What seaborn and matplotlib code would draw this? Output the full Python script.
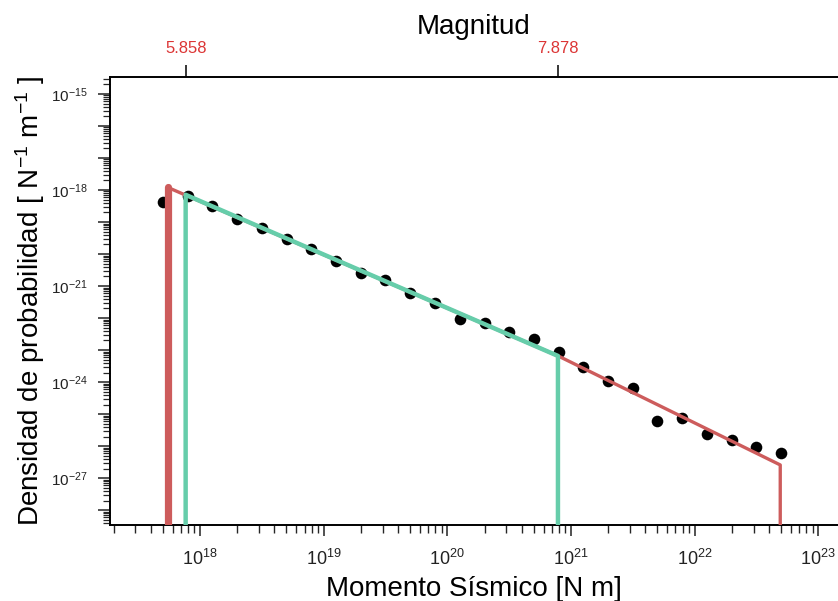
import numpy as np
import pandas as pd
import matplotlib
matplotlib.use("Agg")
import matplotlib.pyplot as plt
import matplotlib.ticker as mticker
import seaborn as sns

# ---- data ----
moment = [5.01e17, 7.94e17, 1.26e18, 2.00e18, 3.16e18, 5.01e18, 7.94e18,
          1.26e19, 2.00e19, 3.16e19, 5.01e19, 7.94e19, 1.26e20, 2.00e20,
          3.16e20, 5.01e20, 7.94e20, 1.26e21, 2.00e21, 3.16e21, 5.01e21,
          7.94e21, 1.26e22, 2.00e22, 3.16e22, 5.01e22]
density = [4.3e-19, 6.6e-19, 3.1e-19, 1.25e-19, 6.4e-20, 3.0e-20, 1.4e-20,
           6.2e-21, 2.5e-21, 1.56e-21, 6.2e-22, 3.0e-22, 9.6e-23, 6.9e-23,
           3.7e-23, 2.3e-23, 8.7e-24, 3.06e-24, 1.05e-24, 6.8e-25, 6.0e-26,
           7.5e-26, 2.38e-26, 1.58e-26, 9.7e-27, 6.0e-27]

red_x = [5.5e17, 5.5e17, 8.0e20, 4.93e22, 4.93e22]
red_y = [1e-40, 1.2e-18, 6.4e-24, 2.6e-27, 1e-40]

green_x = [7.65e17, 7.65e17, 7.85e20, 7.85e20]
green_y = [1e-40, 7.1e-19, 6.6e-24, 1e-40]

top_tick_pos = [7.65e17, 7.85e20]
top_tick_labels = ["5.858", "7.878"]

RED = "#CD5C5C"
GREEN = "#66CDAA"
TOPRED = "#DC3535"

sns.set_style("ticks")
plt.rcParams["font.family"] = ["Liberation Sans", "DejaVu Sans"]
plt.rcParams["mathtext.fontset"] = "custom"
plt.rcParams["mathtext.rm"] = "Liberation Sans"
plt.rcParams["mathtext.it"] = "Liberation Sans:italic"
plt.rcParams["mathtext.bf"] = "Liberation Sans:bold"

fig = plt.figure(figsize=(8.38, 6.01), dpi=100)
ax = fig.add_axes([0.1313, 0.1265, 0.8687, 0.7454])

pts = pd.DataFrame({"M0": moment, "dens": density})
red = pd.DataFrame({"x": red_x, "y": red_y})
green = pd.DataFrame({"x": green_x, "y": green_y})

sns.scatterplot(data=pts, x="M0", y="dens", ax=ax, color="black", s=70,
                edgecolor="black", linewidth=0, zorder=2)
sns.lineplot(data=red, x="x", y="y", ax=ax, sort=False, estimator=None,
             color=RED, linewidth=2.4, zorder=3)
sns.lineplot(data=red.iloc[0:2], x="x", y="y", ax=ax, sort=False, estimator=None,
             color=RED, linewidth=5.2, zorder=3)
sns.lineplot(data=green, x="x", y="y", ax=ax, sort=False, estimator=None,
             color=GREEN, linewidth=3.2, zorder=4)

ax.set_xscale("log")
ax.set_yscale("log")
ax.set_xlim(10**17.272, 10**23.16)
ax.set_ylim(10**-28.46, 10**-14.47)

ax.xaxis.set_major_locator(mticker.LogLocator(base=10, subs=(1.0,), numticks=50))
ax.xaxis.set_minor_locator(mticker.LogLocator(base=10, subs=np.arange(2, 10), numticks=50))
ax.yaxis.set_major_locator(mticker.LogLocator(base=10, subs=(1.0,), numticks=50))
ax.yaxis.set_minor_locator(mticker.LogLocator(base=10, subs=np.arange(2, 10), numticks=50))

def xfmt(v, pos):
    e = int(round(np.log10(v)))
    return r"$10^{%d}$" % e

def yfmt(v, pos):
    e = int(round(np.log10(v)))
    return r"$10^{%d}$" % e if e % 3 == 0 else ""

ax.xaxis.set_major_formatter(mticker.FuncFormatter(xfmt))
ax.xaxis.set_minor_formatter(mticker.NullFormatter())
ax.yaxis.set_major_formatter(mticker.FuncFormatter(yfmt))
ax.yaxis.set_minor_formatter(mticker.NullFormatter())

ax.tick_params(axis="x", which="major", length=8, width=1.1, direction="out",
               labelsize=13, pad=9, colors="#222222")
ax.tick_params(axis="x", which="minor", length=6, width=1.0, direction="out")
ax.tick_params(axis="y", which="major", length=9, width=1.1, direction="out",
               labelsize=11, pad=7, colors="#222222")
ax.tick_params(axis="y", which="minor", length=5, width=0.9, direction="out")

for s in ["left", "bottom", "top"]:
    ax.spines[s].set_linewidth(1.4)
    ax.spines[s].set_color("black")
ax.spines["right"].set_visible(False)

ax.set_xlabel("Momento Sísmico [N m]", fontsize=20, labelpad=5, color="black")
ax.set_ylabel(r"Densidad de probabilidad [ N$^{-1}$ m$^{-1}$ ]", fontsize=20,
              labelpad=3, color="black")

# top axis (magnitude)
ax2 = ax.twiny()
ax2.set_xscale("log")
ax2.set_xlim(ax.get_xlim())
ax2.xaxis.set_major_locator(mticker.FixedLocator(top_tick_pos))
ax2.xaxis.set_minor_locator(mticker.NullLocator())
ax2.set_xticklabels(top_tick_labels)
ax2.tick_params(axis="x", which="major", length=9, width=1.1, direction="out",
                labelsize=12, labelcolor=TOPRED, color="black", pad=6)
for s in ax2.spines.values():
    s.set_visible(False)
ax2.set_xlabel("Magnitud", fontsize=20, labelpad=5, color="black")

fig.savefig("out.png", dpi=100)
